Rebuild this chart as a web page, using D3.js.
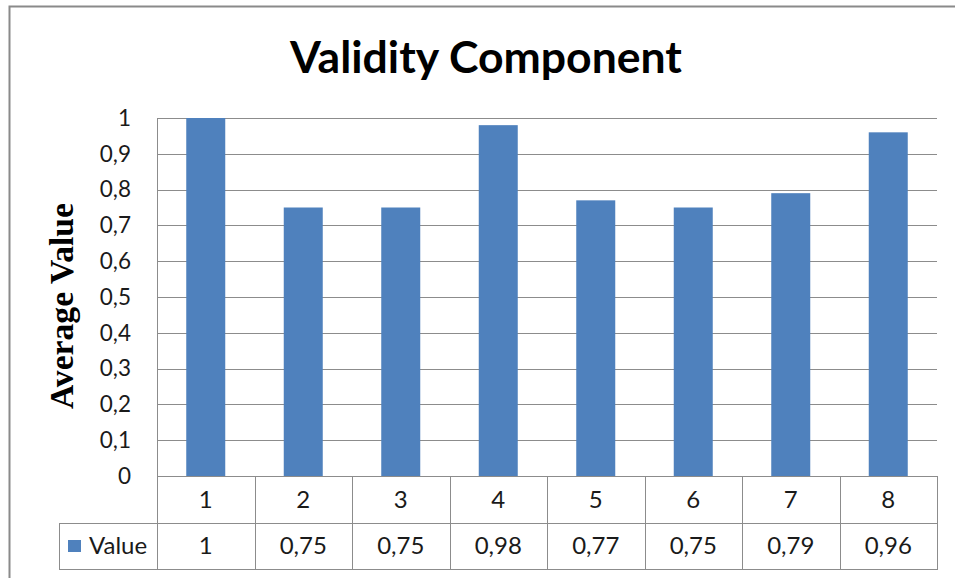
<!DOCTYPE html>
<html>
<head>
<meta charset="utf-8">
<script src="https://cdn.jsdelivr.net/npm/d3@7"></script>
<style>
  html, body { margin: 0; padding: 0; background: #fff; }
  svg { display: block; }
</style>
</head>
<body>
<svg id="chart" width="955" height="578"></svg>
<script>
// Chart data
const categories = ["1", "2", "3", "4", "5", "6", "7", "8"];
const values = [1, 0.75, 0.75, 0.98, 0.77, 0.75, 0.79, 0.96];
const yTicks = [0, 0.1, 0.2, 0.3, 0.4, 0.5, 0.6, 0.7, 0.8, 0.9, 1];
const seriesName = "Value";
const chartTitle = "Validity Component";
const yTitle = "Average Value";

const W = 955, H = 578;
const plot = { left: 157, right: 937, top: 118, bottom: 476 };
const rowH1 = 47, rowH2 = 46;
const legendLeft = 59;

const barColor = "#4F81BD";
const gridColor = "#8C8C8C";
const textColor = "#1a1a1a";
const comma = v => String(v).replace(".", ",");

const svg = d3.select("#chart");

// Chart frame
svg.append("rect")
  .attr("x", 9.5).attr("y", 6.5)
  .attr("width", W).attr("height", H)
  .attr("fill", "#fff").attr("stroke", "#8a8a8a").attr("stroke-width", 2);

const x = d3.scaleBand().domain(categories)
  .range([plot.left, plot.right]).paddingInner(0.6).paddingOuter(0.3);
const xCell = d3.scaleBand().domain(categories).range([plot.left, plot.right]);
const y = d3.scaleLinear().domain([0, 1]).range([plot.bottom, plot.top]);

// Horizontal gridlines
svg.append("g").selectAll("line").data(yTicks).join("line")
  .attr("x1", plot.left).attr("x2", plot.right)
  .attr("y1", d => Math.round(y(d)) + 0.5).attr("y2", d => Math.round(y(d)) + 0.5)
  .attr("stroke", gridColor).attr("stroke-width", 1);

// Y axis labels
const yAxis = d3.axisLeft(y).tickValues(yTicks).tickSize(0).tickPadding(26)
  .tickFormat(d => comma(d3.format("~g")(d)));
const yg = svg.append("g").attr("transform", `translate(${plot.left},0)`).call(yAxis);
yg.select(".domain").remove();
yg.selectAll("text")
  .attr("font-family", "Lato, 'Open Sans', sans-serif")
  .attr("font-size", 22.5).attr("fill", textColor);

// Bars
svg.append("g").selectAll("rect").data(values).join("rect")
  .attr("x", (d, i) => x(categories[i]))
  .attr("width", x.bandwidth())
  .attr("y", d => y(d))
  .attr("height", d => y(0) - y(d))
  .attr("fill", barColor);

// Vertical axis line
svg.append("line")
  .attr("x1", plot.left + 0.5).attr("x2", plot.left + 0.5)
  .attr("y1", plot.top).attr("y2", plot.bottom + rowH1 + rowH2)
  .attr("stroke", gridColor);

// Data table
const tbl = svg.append("g");
const row1Bottom = plot.bottom + rowH1, row2Bottom = row1Bottom + rowH2;
tbl.append("line").attr("x1", legendLeft).attr("x2", plot.right + 1)
  .attr("y1", row1Bottom + 0.5).attr("y2", row1Bottom + 0.5).attr("stroke", gridColor);
tbl.append("line").attr("x1", legendLeft).attr("x2", plot.right + 1)
  .attr("y1", row2Bottom + 0.5).attr("y2", row2Bottom + 0.5).attr("stroke", gridColor);
tbl.append("line").attr("x1", legendLeft + 0.5).attr("x2", legendLeft + 0.5)
  .attr("y1", row1Bottom).attr("y2", row2Bottom).attr("stroke", gridColor);
tbl.selectAll("line.col").data(categories).join("line").attr("class", "col")
  .attr("x1", d => Math.round(xCell(d) + xCell.bandwidth()) + 0.5)
  .attr("x2", d => Math.round(xCell(d) + xCell.bandwidth()) + 0.5)
  .attr("y1", plot.bottom).attr("y2", row2Bottom).attr("stroke", gridColor);

const cellFont = "Lato, 'Open Sans', sans-serif";
const cellSize = 24;
tbl.selectAll("text.cat").data(categories).join("text").attr("class", "cat")
  .attr("x", d => xCell(d) + xCell.bandwidth() / 2)
  .attr("y", plot.bottom + rowH1 / 2 + 8)
  .attr("text-anchor", "middle")
  .attr("font-family", cellFont).attr("font-size", cellSize).attr("fill", textColor)
  .text(d => d);
tbl.selectAll("text.val").data(values).join("text").attr("class", "val")
  .attr("x", (d, i) => xCell(categories[i]) + xCell.bandwidth() / 2)
  .attr("y", row1Bottom + rowH2 / 2 + 8)
  .attr("text-anchor", "middle")
  .attr("font-family", cellFont).attr("font-size", cellSize).attr("fill", textColor)
  .text(d => comma(d));

// Legend key in table
tbl.append("rect").attr("x", 68).attr("y", row1Bottom + 17)
  .attr("width", 13).attr("height", 12).attr("fill", barColor);
tbl.append("text").attr("x", 89).attr("y", row1Bottom + rowH2 / 2 + 8)
  .attr("font-family", cellFont).attr("font-size", cellSize).attr("fill", textColor)
  .text(seriesName);

// Title
const title = svg.append("text")
  .attr("x", 486).attr("y", 73)
  .attr("text-anchor", "middle")
  .attr("font-family", "Lato, 'Open Sans', sans-serif")
  .attr("font-weight", "bold").attr("font-size", 38).attr("fill", "#000")
  .text(chartTitle);
const tw = title.node().getComputedTextLength();
title.attr("font-size", 38 * 392 / tw);

// Y axis title
const yt = svg.append("text")
  .attr("transform", "translate(73,306) rotate(-90)")
  .attr("text-anchor", "middle")
  .attr("font-family", "'Liberation Serif', 'DejaVu Serif', serif")
  .attr("font-weight", "bold").attr("font-size", 30).attr("fill", "#000")
  .text(yTitle);
const yw = yt.node().getComputedTextLength();
yt.attr("font-size", 30 * 206 / yw);
</script>
</body>
</html>
